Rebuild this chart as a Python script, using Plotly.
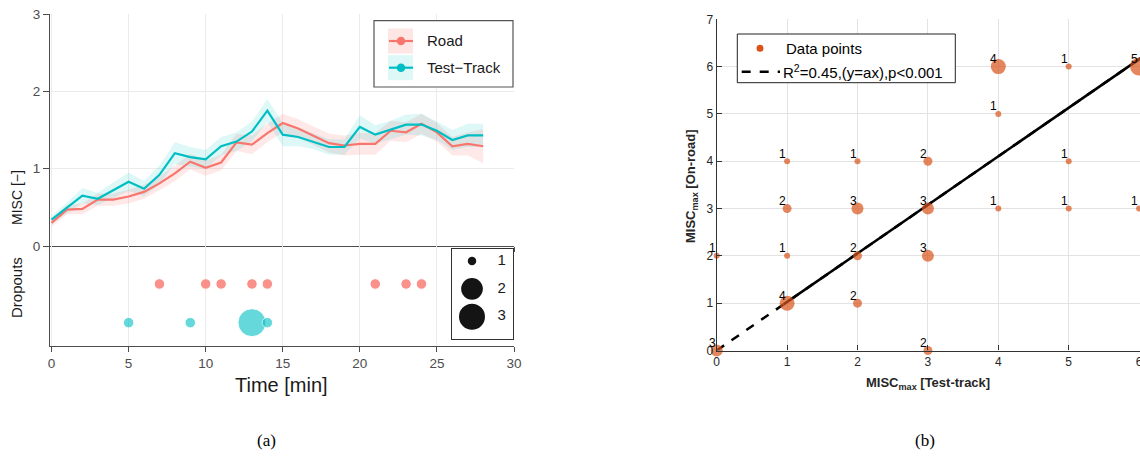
import plotly.graph_objects as go

# ---------------- data: panel (a) ----------------
t = list(range(29))
road = [0.30, 0.47, 0.48, 0.60, 0.60, 0.64, 0.70, 0.81, 0.94, 1.09, 1.01, 1.08, 1.34, 1.31, 1.46,
        1.59, 1.52, 1.43, 1.33, 1.30, 1.32, 1.32, 1.49, 1.47, 1.58, 1.47, 1.29, 1.32, 1.29]
track = [0.34, 0.49, 0.65, 0.61, 0.72, 0.83, 0.74, 0.92, 1.20, 1.15, 1.12, 1.29, 1.35, 1.48, 1.75,
         1.44, 1.41, 1.35, 1.28, 1.28, 1.54, 1.44, 1.50, 1.57, 1.57, 1.49, 1.37, 1.43, 1.43]
road_se = [0.05, 0.06, 0.07, 0.08, 0.08, 0.09, 0.09, 0.09, 0.10, 0.10, 0.10, 0.10, 0.11, 0.12, 0.12,
           0.12, 0.12, 0.12, 0.12, 0.13, 0.14, 0.14, 0.13, 0.13, 0.13, 0.12, 0.12, 0.15, 0.22]
track_se = [0.05, 0.07, 0.10, 0.08, 0.10, 0.12, 0.10, 0.12, 0.14, 0.13, 0.12, 0.12, 0.12, 0.13, 0.15,
            0.15, 0.12, 0.10, 0.10, 0.10, 0.15, 0.12, 0.12, 0.13, 0.14, 0.12, 0.13, 0.15, 0.15]

road_drop_t = [7, 10, 11, 13, 14, 21, 23, 24]
road_drop_n = [1, 1, 1, 1, 1, 1, 1, 1]
track_drop_t = [5, 9, 13, 14]
track_drop_n = [1, 1, 3, 1]
size_keys = [1, 2, 3]
series_names = ["Road", "Test\u2212Track"]

# ---------------- data: panel (b) ----------------
misc_track = [0, 0, 1, 1, 1, 1, 2, 2, 2, 2, 3, 3, 3, 3, 4, 4, 4, 5, 5, 5, 6, 6]
misc_road = [0, 2, 1, 2, 3, 4, 1, 2, 3, 4, 0, 2, 3, 4, 3, 5, 6, 3, 4, 6, 3, 6]
counts = [3, 1, 4, 1, 2, 1, 2, 2, 3, 1, 2, 3, 3, 2, 1, 1, 4, 1, 1, 1, 1, 5]
fit_a = 1.026
fit_x = [0, 6.1]
fit_solid_x = [0.95, 6.1]
fit_label = "R<sup>2</sup>=0.45,(y=ax),p<0.001"

# ---------------- styling ----------------
RED = "#F8766D"
TEAL = "#00BFC4"
ORANGE = "#D95319"
W, H = 1140, 457
SANS = "Liberation Sans, Arial, sans-serif"
SERIF = "Liberation Serif, Times New Roman, serif"


def px(xp):
    return xp / W


def py(yp):
    return 1 - yp / H


def drop_size(n):
    return 10.5 + 8.75 * (n - 1)


key_px = {1: 8.5, 2: 21.7, 3: 26}


def pt_size(n):
    return 3 + 3 * n


fig = go.Figure()

# bands
for y, se, col in [(road, road_se, "rgba(248,118,109,0.16)"), (track, track_se, "rgba(0,191,196,0.13)")]:
    hi = [a + b for a, b in zip(y, se)]
    lo = [a - b for a, b in zip(y, se)]
    fig.add_trace(go.Scatter(x=t + t[::-1], y=hi + lo[::-1], fill="toself", fillcolor=col,
                             line=dict(width=0), mode="lines", hoverinfo="skip", showlegend=False,
                             xaxis="x", yaxis="y"))
fig.add_trace(go.Scatter(x=t, y=road, mode="lines", line=dict(color=RED, width=2.2),
                         name=series_names[0], showlegend=False, xaxis="x", yaxis="y"))
fig.add_trace(go.Scatter(x=t, y=track, mode="lines", line=dict(color=TEAL, width=2.2),
                         name=series_names[1], showlegend=False, xaxis="x", yaxis="y"))

# dropouts
fig.add_trace(go.Scatter(x=road_drop_t, y=[1] * len(road_drop_t), mode="markers",
                         marker=dict(color=RED, opacity=0.8, size=[drop_size(n) for n in road_drop_n]),
                         showlegend=False, xaxis="x2", yaxis="y2"))
fig.add_trace(go.Scatter(x=track_drop_t, y=[0] * len(track_drop_t), mode="markers",
                         marker=dict(color=TEAL, opacity=0.6, size=[drop_size(n) for n in track_drop_n]),
                         showlegend=False, xaxis="x2", yaxis="y2"))

# size key (inset)
fig.add_trace(go.Scatter(x=[0] * len(size_keys), y=size_keys, mode="markers",
                         marker=dict(color="#141414", opacity=1, size=[key_px[k] for k in size_keys],
                                     line=dict(width=0)),
                         showlegend=False, xaxis="x4", yaxis="y4", hoverinfo="skip"))
fig.add_trace(go.Scatter(x=[1] * len(size_keys), y=size_keys, mode="text",
                         text=[str(k) for k in size_keys],
                         textfont=dict(size=15, color="#1a1a1a", family=SANS),
                         showlegend=False, xaxis="x4", yaxis="y4", hoverinfo="skip"))

# panel (b)
fig.add_trace(go.Scatter(x=fit_x, y=[fit_a * v for v in fit_x], mode="lines",
                         line=dict(color="black", width=2.5, dash="dash"),
                         showlegend=False, xaxis="x3", yaxis="y3"))
fig.add_trace(go.Scatter(x=fit_solid_x, y=[fit_a * v for v in fit_solid_x], mode="lines",
                         line=dict(color="black", width=2.5), showlegend=False,
                         xaxis="x3", yaxis="y3"))
fig.add_trace(go.Scatter(x=misc_track, y=misc_road, mode="markers",
                         marker=dict(color=ORANGE, size=[pt_size(c) for c in counts], line=dict(width=0)),
                         cliponaxis=False, showlegend=False, xaxis="x3", yaxis="y3"))

annotations = []
for xv, yv, c in zip(misc_track, misc_road, counts):
    annotations.append(dict(x=xv, y=yv, xref="x3", yref="y3", text=str(c), showarrow=False,
                            xshift=-4.5, yshift=7.5, font=dict(size=12, color="black", family=SANS)))


def paper_text(text, xp, yp, size, color="#1a1a1a", angle=0, family=SANS, anchor="center"):
    annotations.append(dict(x=px(xp), y=py(yp), xref="paper", yref="paper", text=text,
                            showarrow=False, textangle=angle, xanchor=anchor, yanchor="middle",
                            font=dict(size=size, color=color, family=family)))


paper_text("MISC [\u2212]", 17, 198, 14, angle=-90)
paper_text("Dropouts", 16, 288, 15, angle=-90)
paper_text("Time [min]", 281, 385, 20)
paper_text("<b>MISC<sub>max</sub> [On-road]</b>", 691, 186, 13, color="#262626", angle=-90)
paper_text("<b>MISC<sub>max</sub> [Test-track]</b>", 928, 383, 13, color="#262626")
paper_text("(a)", 266, 440, 17, color="black", family=SERIF)
paper_text("(b)", 925, 440, 17, color="black", family=SERIF)

shapes = []


def rect(x0, y0, x1, y1, line_color, line_width, fill):
    shapes.append(dict(type="rect", xref="paper", yref="paper", x0=px(x0), x1=px(x1),
                       y0=py(y1), y1=py(y0), line=dict(color=line_color, width=line_width),
                       fillcolor=fill, layer="above"))


def hline(x0, x1, yy, color, width, dash="solid"):
    shapes.append(dict(type="line", xref="paper", yref="paper", x0=px(x0), x1=px(x1),
                       y0=py(yy), y1=py(yy), line=dict(color=color, width=width, dash=dash),
                       layer="above"))


def dot(cx, cy, d, color):
    shapes.append(dict(type="circle", xref="paper", yref="paper", x0=px(cx - d / 2), x1=px(cx + d / 2),
                       y0=py(cy + d / 2), y1=py(cy - d / 2), line=dict(width=0), fillcolor=color,
                       layer="above"))


# legend (a)
rect(374, 20.7, 513, 87, "#555555", 1.2, "white")
for name, col, shade, yy in [(series_names[0], RED, "rgba(248,118,109,0.18)", 41),
                             (series_names[1], TEAL, "rgba(0,191,196,0.13)", 67.7)]:
    rect(388, yy - 12.5, 413, yy + 12.5, "rgba(0,0,0,0)", 0, shade)
    hline(389, 413, yy, col, 2.2)
    dot(401, yy, 8.5, col)
    paper_text(name, 425, yy, 15, anchor="left")

# legend (b)
rect(737.3, 34, 955.3, 82.7, "#222222", 1, "white")
dot(760, 48.3, 7, ORANGE)
hline(741.7, 780, 71.7, "black", 2.5, dash="dash")
paper_text("Data points", 784, 48.3, 15, color="black", anchor="left")
paper_text(fit_label, 781, 71.2, 15, color="black", anchor="left")

GRID = "#ebebeb"
AX = "#4d4d4d"
left_dom = [px(50), px(514)]
common_x = dict(domain=left_dom, range=[-0.1, 30], tickvals=[0, 5, 10, 15, 20, 25, 30],
                showgrid=True, gridcolor=GRID, zeroline=False, showline=True, linecolor=AX,
                linewidth=1, ticks="outside", ticklen=5, tickcolor=AX, automargin=False,
                tickfont=dict(size=13.5, color=AX, family=SANS))

fig.update_layout(
    template="none",
    width=W, height=H, autosize=False,
    margin=dict(l=0, r=0, t=0, b=0, pad=0, autoexpand=False),
    paper_bgcolor="white", plot_bgcolor="white", showlegend=False,
    xaxis=dict(**common_x, anchor="y", showticklabels=False),
    yaxis=dict(domain=[py(246), py(14)], range=[0, 3], tickvals=[0, 1, 2, 3], showgrid=True,
               gridcolor=GRID, zeroline=False, showline=True, linecolor=AX, ticks="outside",
               ticklen=6, tickcolor=AX, automargin=False,
               tickfont=dict(size=13.5, color=AX, family=SANS), anchor="x"),
    xaxis2=dict(**common_x, anchor="y2"),
    yaxis2=dict(domain=[py(345.5), py(246)], range=[-0.59, 1.98], showgrid=False, zeroline=False,
                showline=True, linecolor=AX, showticklabels=False, ticks="", automargin=False,
                anchor="x2"),
    xaxis4=dict(domain=[px(452), px(513)], range=[-0.673, 1.381], showgrid=False, zeroline=False,
                showline=True, mirror=True, linecolor="#333333", showticklabels=False, ticks="",
                automargin=False, anchor="y4"),
    yaxis4=dict(domain=[py(338.7), py(249)], range=[3.79, 0.568], showgrid=False, zeroline=False,
                showline=True, mirror=True, linecolor="#333333", showticklabels=False, ticks="",
                automargin=False, anchor="x4"),
    xaxis3=dict(domain=[px(716.7), 1.0], range=[0, (W - 716.7) / 70.4], tickvals=[0, 1, 2, 3, 4, 5, 6],
                showgrid=True, gridcolor="#e3e3e3", zeroline=False, showline=True, linecolor="#333333",
                linewidth=1.2, ticks="inside", ticklen=5, tickcolor="#333333", automargin=False,
                ticklabeloverflow="allow",
                tickfont=dict(size=12, color="#262626", family=SANS), anchor="y3"),
    yaxis3=dict(domain=[py(350.5), py(19.3)], range=[0, 7], tickvals=list(range(8)),
                showgrid=True, gridcolor="#e3e3e3", zeroline=False, showline=True, linecolor="#333333",
                linewidth=1.2, ticks="inside", ticklen=5, tickcolor="#333333", automargin=False,
                tickfont=dict(size=12, color="#262626", family=SANS), anchor="x3"),
    annotations=annotations,
    shapes=shapes,
)

fig.write_html("out.html")
